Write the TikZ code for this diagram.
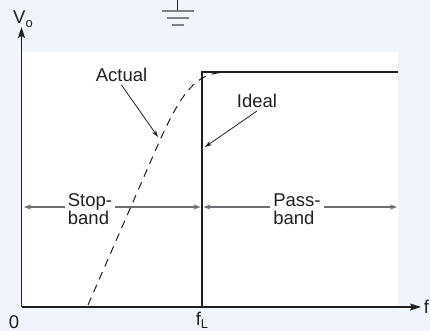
\documentclass[tikz,border=0pt]{standalone}
\usepackage{fontspec}
\setmainfont{Liberation Sans}
\usetikzlibrary{arrows.meta}
\definecolor{bg}{HTML}{EFF5FB}
\definecolor{ink}{HTML}{231F20}
\definecolor{bandgray}{HTML}{6D6E71}
\definecolor{gndgray}{HTML}{808285}
\tikzset{
  lbl/.style={font=\fontsize{18.5}{18}\selectfont, text=ink, inner sep=0pt},
  bandlbl/.style={lbl, align=left, fill=white, inner xsep=3pt, inner ysep=1pt},
  axisline/.style={draw=ink, line width=1.3pt, -{Stealth[length=11pt,width=7pt,inset=2pt]}},
  idealline/.style={draw=ink, line width=2.6pt, line cap=rect, line join=miter},
  actualline/.style={draw=ink, line width=1pt, dash pattern=on 8pt off 6pt},
  annarrow/.style={draw=ink, line width=0.8pt, -{Stealth[length=7pt,width=4.5pt]}},
  bandarrow/.style={draw=bandgray, line width=1.3pt, {Stealth[length=7pt,width=5pt]}-{Stealth[length=7pt,width=5pt]}},
  gndline/.style={draw=gndgray, line width=1.6pt},
}
\begin{document}
\begin{tikzpicture}[x=1pt,y=-1pt]
\fill[bg] (0,0) rectangle (430,331);
\useasboundingbox (0,0) rectangle (430,331);
\fill[white] (21,52) rectangle (398,307);
% ground symbol
\coordinate (g0) at (177.3,0);
\coordinate (g1) at (177.3,10.5);
\draw[draw=ink, line width=1.2pt] (g0) -- (g1);
\coordinate (g1a) at (162,11); \coordinate (g1b) at (194,11);
\coordinate (g2a) at (167,18); \coordinate (g2b) at (189,18);
\coordinate (g3a) at (172,25); \coordinate (g3b) at (184,25);
\draw[gndline] (g1a) -- (g1b);
\draw[gndline] (g2a) -- (g2b);
\draw[gndline] (g3a) -- (g3b);
% axes
\coordinate (O) at (21.5,307);
\coordinate (ytip) at (21.5,27);
\coordinate (xtip) at (421,307);
\draw[axisline] (O) -- (ytip);
\draw[axisline] (O) -- (xtip);
\node[lbl] (vo) at (23,19) {V\raisebox{-4pt}{\fontsize{13}{13}\selectfont o}};
\node[lbl] (f) at (426.5,307) {f};
\node[lbl] (zero) at (14,322) {0};
\node[lbl] (fL) at (202,320.5) {f\raisebox{-3.5pt}{\fontsize{13}{13}\selectfont L}};
% ideal response
\coordinate (ib) at (202,307);
\coordinate (it) at (202,72);
\coordinate (ir) at (397,72);
\draw[idealline] (ib) -- (it) -- (ir);
% actual response
\coordinate (a0) at (88,305);
\coordinate (a1) at (160,140);
\coordinate (a2) at (222,72.5);
\draw[actualline] (a0) -- (a1) .. controls (182,92) and (196,74) .. (a2);
% labels with arrows
\node[lbl] (actual) at (121.5,75) {Actual};
\coordinate (acttip) at (158,137);
\draw[annarrow] ([yshift=-3pt]actual.south) -- (acttip);
\node[lbl] (ideal) at (257,101) {Ideal};
\coordinate (idtip) at (205,147);
\draw[annarrow] ([yshift=-3pt]ideal.south) -- (idtip);
% bands
\coordinate (sl) at (24,207);
\coordinate (sr) at (200.5,207);
\coordinate (pl) at (203.5,207);
\coordinate (pr) at (397,207);
\draw[bandarrow] (sl) -- (sr);
\draw[bandarrow] (pl) -- (pr);
\node[bandlbl] (stop) at (90,209) {Stop-\\band};
\node[bandlbl] (pass) at (297,209) {Pass-\\band};
\end{tikzpicture}
\end{document}
